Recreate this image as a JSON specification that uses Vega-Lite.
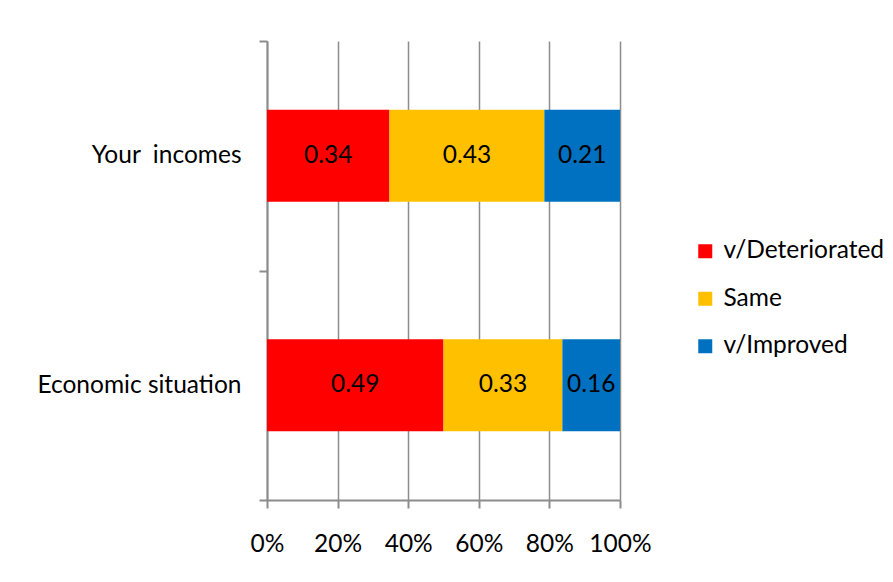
{
  "$schema": "https://vega.github.io/schema/vega-lite/v6.json",
  "width": 353,
  "height": 459,
  "autosize": {"type": "none"},
  "padding": {"left": 267, "top": 41, "right": 273, "bottom": 82},
  "background": "white",
  "config": {
    "view": {"stroke": null},
    "font": "Lato",
    "text": {"font": "Lato"},
    "axis": {"labelFont": "Lato", "labelColor": "black"},
    "legend": {"labelFont": "Lato"}
  },
  "data": {
    "values": [
      {"item": "Your\u00a0 incomes", "category": "v/Deteriorated", "order": 1, "value": 0.34},
      {"item": "Your\u00a0 incomes", "category": "Same", "order": 2, "value": 0.43},
      {"item": "Your\u00a0 incomes", "category": "v/Improved", "order": 3, "value": 0.21},
      {"item": "Economic situation", "category": "v/Deteriorated", "order": 1, "value": 0.49},
      {"item": "Economic situation", "category": "Same", "order": 2, "value": 0.33},
      {"item": "Economic situation", "category": "v/Improved", "order": 3, "value": 0.16}
    ]
  },
  "encoding": {
    "y": {
      "field": "item",
      "type": "nominal",
      "sort": ["Your\u00a0 incomes", "Economic situation"],
      "scale": {"paddingInner": 0, "paddingOuter": 0},
      "axis": {
        "title": null,
        "tickBand": "extent",
        "tickSize": 8,
        "tickWidth": 2,
        "tickColor": "#8c8c8c",
        "domainColor": "#8c8c8c",
        "domainWidth": 2,
        "labelPadding": 18,
        "labelFontSize": 24.5,
        "labelLimit": 400,
        "grid": false
      }
    }
  },
  "layer": [
    {
      "mark": {"type": "bar", "height": {"band": 0.4}},
      "encoding": {
        "x": {
          "field": "value",
          "type": "quantitative",
          "stack": "normalize",
          "scale": {"domain": [0, 1]},
          "axis": {
            "title": null,
            "format": "%",
            "values": [0, 0.2, 0.4, 0.6, 0.8, 1],
            "grid": true,
            "gridColor": "#8c8c8c",
            "gridWidth": 1.5,
            "tickSize": 8,
            "tickWidth": 2,
            "tickColor": "#8c8c8c",
            "domainColor": "#8c8c8c",
            "domainWidth": 2,
            "labelFontSize": 24.5,
            "labelPadding": 24,
            "labelFlush": false
          }
        },
        "color": {
          "field": "category",
          "type": "nominal",
          "sort": ["v/Deteriorated", "Same", "v/Improved"],
          "scale": {"domain": ["v/Deteriorated", "Same", "v/Improved"], "range": ["#FF0000", "#FFC000", "#0070C0"]},
          "legend": {
            "title": null,
            "orient": "none",
            "legendX": 426,
            "legendY": 198,
            "symbolType": "square",
            "symbolSize": 196,
            "symbolStrokeWidth": 0,
            "labelFontSize": 24.5,
            "labelLimit": 300,
            "labelOffset": 6,
            "rowPadding": 22.5,
            "padding": 0
          }
        },
        "order": {"field": "order"}
      }
    },
    {
      "mark": {"type": "text", "fontSize": 24.5, "color": "black"},
      "encoding": {
        "x": {"field": "value", "type": "quantitative", "stack": "normalize", "bandPosition": 0.5},
        "detail": {"field": "category"},
        "text": {"field": "value", "format": ".2f"},
        "order": {"field": "order"}
      }
    }
  ]
}
